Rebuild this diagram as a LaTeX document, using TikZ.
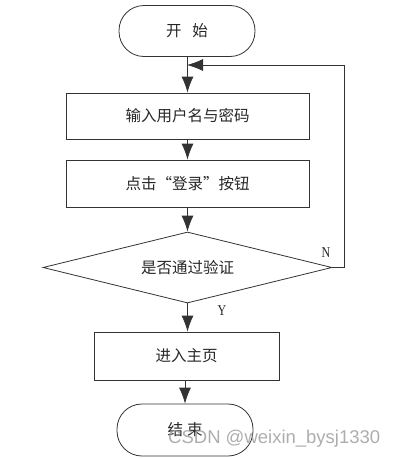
\documentclass[tikz,border=0pt]{standalone}
\usepackage{fontspec}
\setmainfont{Liberation Serif}
\newfontfamily\cjk{Noto Sans CJK SC}
\newfontfamily\wmfont{Liberation Sans}
\usetikzlibrary{shapes.geometric,arrows.meta}
\tikzset{
  box/.style={draw=black!80, line width=0.8pt, rectangle, inner sep=0pt, font=\cjk\fontsize{15.5}{17}\selectfont, text=black!85},
  term/.style={box, rounded corners=25pt, minimum width=136pt},
  decision/.style={box, diamond, aspect=4.07, minimum width=289pt, minimum height=71pt},
  conn/.style={draw=black!80, line width=0.8pt, -{Latex[length=16pt,width=12pt]}},
  lbl/.style={font=\fontsize{15}{16}\selectfont, text=black!85, xscale=0.8, inner sep=0pt}
}
\begin{document}
\begin{tikzpicture}[x=1pt,y=-1pt]
\useasboundingbox (0,0) rectangle (402,458);
\node[term, minimum height=51pt] (start) at (187,31) {开\hspace{11pt}始};
\node[box, minimum width=243pt, minimum height=46pt] (in1) at (187.5,116) {输入用户名与密码};
\node[box, minimum width=243pt, minimum height=47pt] (in2) at (187.5,183.5) {点击“登录”按钮};
\node[decision] (dec) at (187.5,267.5) {是否通过验证};
\node[box, minimum width=185pt, minimum height=48pt] (home) at (186.5,356) {进入主页};
\node[term, minimum height=52pt] (end) at (185,430) {\raisebox{3pt}{结\hspace{4pt}束}};
\coordinate (fbR) at (344,65);
\coordinate (fbIn) at (187,65);
\draw[conn] (start.south -| in1.north) -- (in1.north);
\draw[conn] (in1.south) -- (in2.north);
\draw[conn] (in2.south) -- (dec.north);
\draw[conn] (dec.south) -- (dec.south |- home.north);
\draw[conn] (home.south -| end.north) -- (end.north);
\draw[conn] (dec.east) -| (fbR) -- (fbIn);
\node[lbl] (nlab) at (326,253) {N};
\node[lbl] (ylab) at (222,311) {Y};
\node[font=\wmfont\fontsize{18.5}{20}\selectfont, text=black!40, opacity=0.8, anchor=west, inner sep=0pt] (wm) at (168,439) {CSDN @weixin\_bysj1330};
\end{tikzpicture}
\end{document}
